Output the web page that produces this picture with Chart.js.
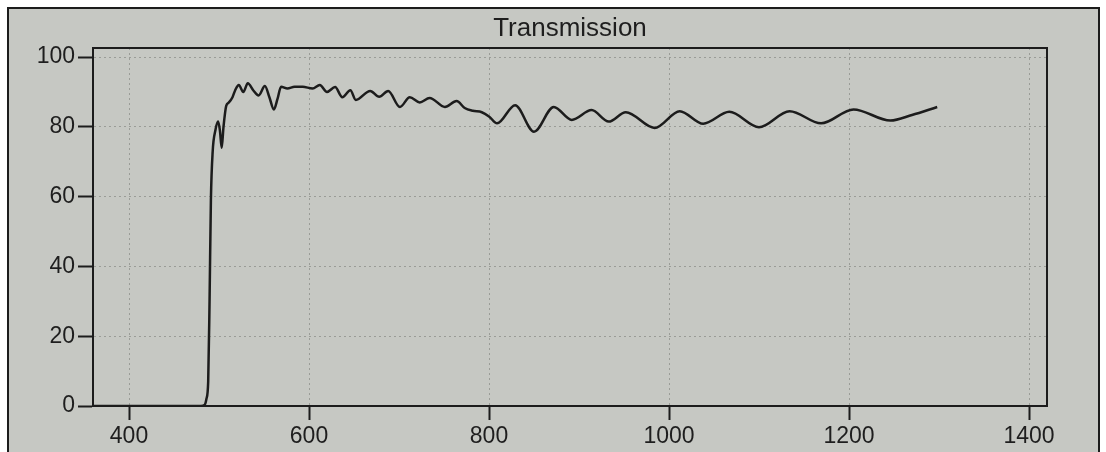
<!DOCTYPE html>
<html>
<head>
<meta charset="utf-8">
<script src="https://cdn.jsdelivr.net/npm/chart.js@4/dist/chart.umd.min.js"></script>
<style>
  body { margin: 0; background: #fff; }
  #wrap { position: relative; width: 1106px; height: 452px; overflow: hidden; }
  #frame { position: absolute; left: 7px; top: 7px; width: 1089px; height: 460px;
           border: 2px solid #1c1c1c; background: #c6c8c3; }
  #mycanvas { position: absolute; left: 0; top: 0; }
  #title { position: absolute; left: 470px; width: 200px; top: 12px; text-align: center;
           font-family: 'Liberation Sans', Arial, sans-serif; font-size: 26px; color: #1e1e1e; }
</style>
</head>
<body>
<div id="wrap">
  <div id="frame"></div>
  <canvas id="mycanvas" width="1106" height="452"></canvas>
  <div id="title">Transmission</div>
</div>
<script>
// wavelength (nm) and transmission (%)
var wavelength = [360, 480, 484, 486, 488, 489.5, 491, 493, 496, 499, 501, 503, 505, 508, 511, 515,
  518, 522, 527, 532, 538, 544, 551, 556, 561, 565, 569, 576, 584, 593, 604, 612, 620, 629, 637,
  646, 652, 668, 678, 688, 701, 712, 723, 734, 751, 764, 773, 782, 792, 800, 809, 829, 850, 872,
  892, 914, 933, 952, 984, 1012, 1038, 1067, 1100, 1134, 1169, 1205, 1246, 1270, 1298];
var transmission = [0, 0, 0.3, 2, 7, 30, 59, 73, 79, 81.5, 79, 74, 80, 86, 87, 88.5,
  90.5, 92, 90, 92.5, 90.5, 89, 91.7, 88.5, 85, 88, 91.5, 91, 91.5, 91.5, 91, 92, 90, 91.4, 88.5,
  90.5, 87.7, 90.3, 88.6, 90.3, 85.7, 88.5, 87, 88.3, 85.7, 87.4, 85.4, 84.6, 84.2, 83, 81, 86.2, 78.6, 85.7,
  82, 84.8, 81.5, 84.2, 79.7, 84.5, 80.9, 84.3, 79.9, 84.5, 81, 85, 81.8, 83.4, 85.7];
var xTicks = [400, 600, 800, 1000, 1200, 1400];
var yTicks = [0, 20, 40, 60, 80, 100];

var pts = [];
for (var i in wavelength) {
  pts.push({x: wavelength[i], y: transmission[i]});
}

var txtCol = '#1e1e1e';
var fnt = {family: "'Liberation Sans', Arial, sans-serif", size: 23};

// closes the plot box (top and right edges)
var boxPlugin = {
  id: 'box',
  afterDraw: function(chart) {
    var a = chart.chartArea, c = chart.ctx;
    c.save();
    c.strokeStyle = '#1c1c1c';
    c.lineWidth = 2;
    c.strokeRect(a.left, a.top, a.right - a.left, a.bottom - a.top);
    c.restore();
  }
};

var ctx = document.getElementById('mycanvas');
var chart = new Chart(ctx, {
  type: 'line',
  data: {
    datasets: [{
      label: 'Transmission',
      data: pts,
      borderColor: '#1c1c1c',
      borderWidth: 2.5,
      pointRadius: 0,
      fill: false,
      cubicInterpolationMode: 'monotone'
    }]
  },
  plugins: [boxPlugin],
  options: {
    responsive: false,
    animation: false,
    layout: {padding: {left: 0, right: 59, top: 48, bottom: 0}},
    plugins: {
      legend: {display: false},
      tooltip: {enabled: false},
      title: {display: false}
    },
    scales: {
      x: {
        type: 'linear',
        min: 360,
        max: 1420,
        afterBuildTicks: function(s) { s.ticks = xTicks.map(function(v){ return {value: v}; }); },
        afterFit: function(s) { s.height = 46; },
        border: {display: true, color: '#1c1c1c', width: 2, dash: [2, 3]},
        grid: {color: '#9a9c97', lineWidth: 1, tickLength: 14,
               tickColor: '#1c1c1c', tickWidth: 2},
        ticks: {color: txtCol, font: fnt, padding: 3, maxRotation: 0,
                callback: function(v){ return String(v); }}
      },
      y: {
        min: 0,
        max: 102.6,
        afterBuildTicks: function(s) { s.ticks = yTicks.map(function(v){ return {value: v}; }); },
        afterFit: function(s) { s.width = 93; },
        border: {display: true, color: '#1c1c1c', width: 2, dash: [2, 3]},
        grid: {color: '#9a9c97', lineWidth: 1, tickLength: 15,
               tickColor: '#1c1c1c', tickWidth: 2},
        ticks: {color: txtCol, font: fnt, padding: 3,
                callback: function(v){ return String(v); }}
      }
    }
  }
});
</script>
</body>
</html>
